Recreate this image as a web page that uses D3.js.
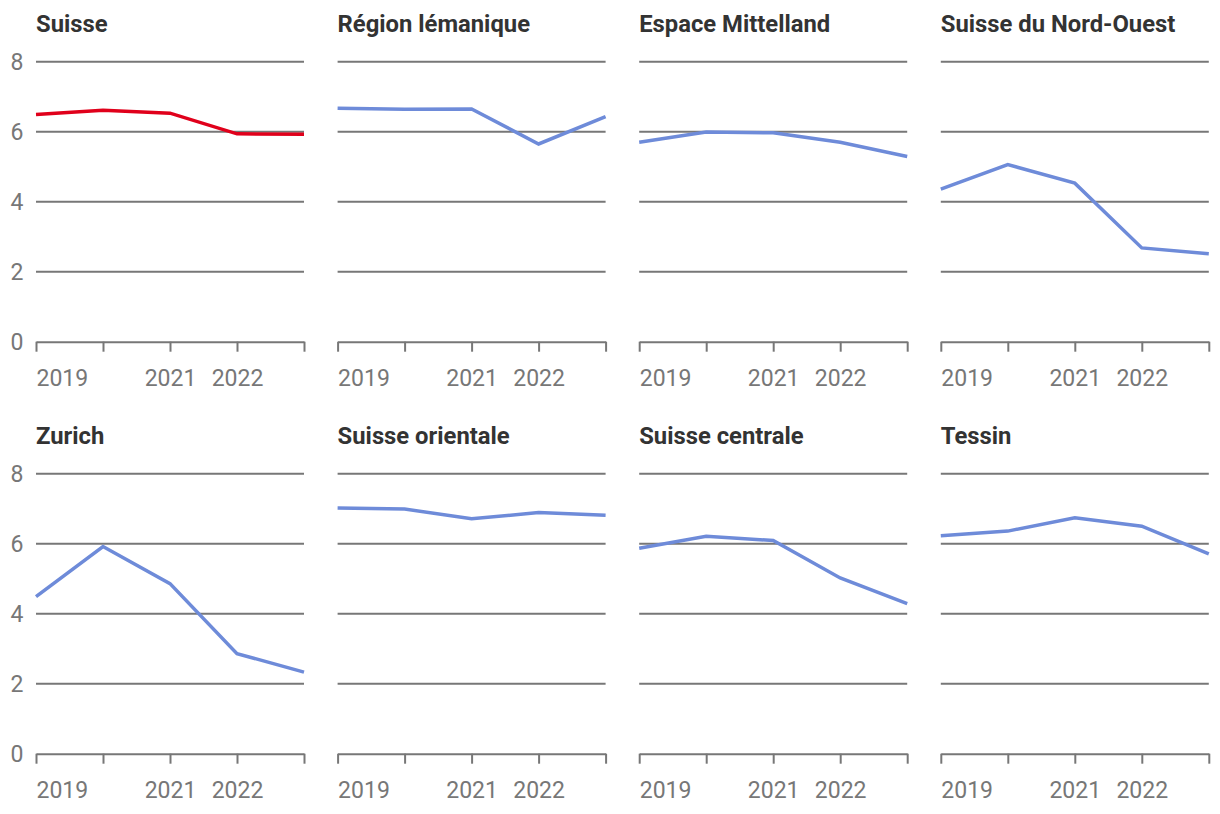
<!DOCTYPE html>
<html>
<head>
<meta charset="utf-8">
<script src="https://cdn.jsdelivr.net/npm/d3@7"></script>
<style>
  body { margin: 0; background: #fff; }
  svg text { font-family: Roboto, "Noto Sans", sans-serif; }
</style>
</head>
<body>
<div id="chart"></div>
<script>
// Data
const years = [2019, 2020, 2021, 2022, 2023];
const labelYears = [2019, 2021, 2022];
const yTicks = [0, 2, 4, 6, 8];

const suisse = [6.49, 6.61, 6.53, 5.94, 5.93];
const regionLemanique = [6.67, 6.64, 6.65, 5.65, 6.43];
const espaceMittelland = [5.70, 5.99, 5.97, 5.70, 5.29];
const nordOuest = [4.36, 5.06, 4.53, 2.68, 2.51];
const zurich = [4.49, 5.92, 4.86, 2.86, 2.33];
const suisseOrientale = [7.02, 6.99, 6.71, 6.89, 6.81];
const suisseCentrale = [5.87, 6.21, 6.09, 5.02, 4.29];
const tessin = [6.23, 6.36, 6.74, 6.50, 5.71];

const panels = [
    { name: "Suisse", values: suisse, national: true },
    { name: "Région lémanique", values: regionLemanique },
    { name: "Espace Mittelland", values: espaceMittelland },
    { name: "Suisse du Nord-Ouest", values: nordOuest },
    { name: "Zurich", values: zurich },
    { name: "Suisse orientale", values: suisseOrientale },
    { name: "Suisse centrale", values: suisseCentrale },
    { name: "Tessin", values: tessin }
];

// Layout
const width = 1220, height = 814;
const left = 36, colStep = 301.6, plotW = 268;
const rowTops = [61.7, 473.7], plotH = 280;
const gridColor = "#777";

const svg = d3.select("#chart")
    .append("svg")
    .attr("width", width)
    .attr("height", height);

const x = d3.scaleLinear().domain([2019, 2023]).range([0, plotW]);
const y = d3.scaleLinear().domain([0, 8]).range([plotH, 0]);

const line = d3.line()
    .x((d, i) => x(years[i]))
    .y(d => y(d));

panels.forEach((p, idx) => {
    const col = idx % 4, row = Math.floor(idx / 4);
    const g = svg.append("g")
        .attr("transform", `translate(${left + col * colStep},${rowTops[row]})`);

    // Title
    g.append("text")
        .attr("x", 0)
        .attr("y", -30)
        .attr("font-size", "23.8px")
        .attr("font-weight", "bold")
        .attr("fill", "#333")
        .text(p.name);

    // Gridlines (skip 0, the axis takes that)
    g.append("g")
        .selectAll("line")
        .data(yTicks.filter(t => t > 0))
        .enter().append("line")
        .attr("x1", 0)
        .attr("x2", plotW)
        .attr("y1", d => y(d))
        .attr("y2", d => y(d))
        .attr("stroke", gridColor)
        .attr("stroke-width", 2);

    // Y labels only on the first column
    if (col === 0) {
        g.append("g")
            .selectAll("text")
            .data(yTicks)
            .enter().append("text")
            .attr("x", -12.5)
            .attr("y", d => y(d))
            .attr("dy", "0.35em")
            .attr("text-anchor", "end")
            .attr("font-size", "23px")
            .attr("fill", "#777")
            .text(d => d);
    }

    // X axis
    const xAxis = d3.axisBottom(x)
        .tickValues(years)
        .tickFormat(d => labelYears.includes(d) ? d3.format("d")(d) : "")
        .tickSize(10)
        .tickSizeOuter(0)
        .tickPadding(18);

    const ax = g.append("g")
        .attr("transform", `translate(0,${plotH})`)
        .call(xAxis);
    ax.select(".domain").attr("stroke", gridColor).attr("stroke-width", 2);
    ax.selectAll(".tick line").attr("stroke", gridColor).attr("stroke-width", 2);
    ax.selectAll(".tick text")
        .attr("font-size", "23px")
        .attr("font-family", "Roboto, sans-serif")
        .attr("fill", "#777")
        .attr("text-anchor", d => d === 2019 ? "start" : "middle");

    // Series line
    g.append("path")
        .datum(p.values)
        .attr("fill", "none")
        .attr("stroke", p.national ? "#e0001b" : "#6e8bd9")
        .attr("stroke-width", 3.5)
        .attr("d", line);
});
</script>
</body>
</html>
